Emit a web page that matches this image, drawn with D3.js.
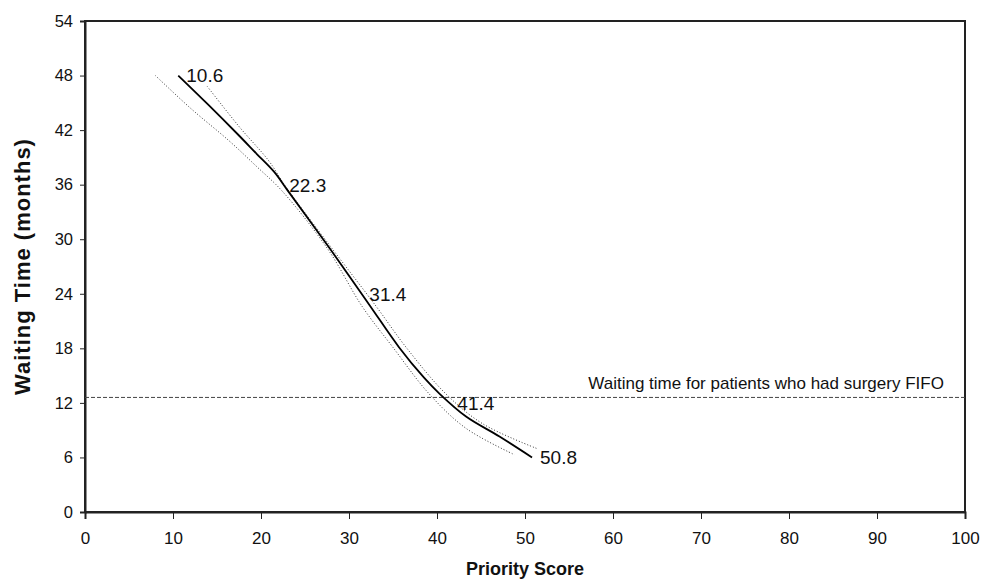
<!DOCTYPE html>
<html>
<head>
<meta charset="utf-8">
<script src="https://cdn.jsdelivr.net/npm/d3@7"></script>
<style>
  body { margin: 0; background: #fff; }
  svg { font-family: "Liberation Sans", Arial, Helvetica, sans-serif; }
</style>
</head>
<body>
<svg id="chart"></svg>
<script>
// priority score (x) against waiting time in months (y)
var fitScore = [10.6, 14.0, 17.3, 19.5, 21.5, 23.0, 27.8, 32.3, 35.7, 38.5, 40.3, 43.3, 47.1, 50.8];
var fitWait = [48.0, 44.8, 41.6, 39.4, 37.4, 35.4, 29.0, 22.8, 18.1, 14.8, 13.0, 10.5, 8.3, 6.0];

var upperScore = [13.9, 17.5, 20.9, 22.8, 27.9, 33.1, 36.5, 41.0, 45.2, 51.3];
var upperWait = [46.8, 42.4, 38.6, 35.8, 29.2, 22.6, 18.1, 13.0, 9.7, 7.0];

var lowerScore = [8.0, 12.0, 16.4, 19.5, 22.4, 27.6, 31.5, 35.0, 39.1, 43.3, 48.8];
var lowerWait = [48.0, 44.4, 40.8, 38.0, 35.3, 28.9, 22.6, 18.1, 13.0, 9.2, 6.3];

var labelScore = [10.6, 22.3, 31.4, 41.4, 50.8];
var labelWait = [48, 36, 24, 12, 6];

var fifoWait = 12.6;
var fifoText = "Waiting time for patients who had surgery FIFO";

var xTicks = [0, 10, 20, 30, 40, 50, 60, 70, 80, 90, 100];
var yTicks = [0, 6, 12, 18, 24, 30, 36, 42, 48, 54];

var width = 989, height = 580;
var margin = {top: 21, right: 24, bottom: 68, left: 85};

var svg = d3.select("#chart")
    .attr("width", width)
    .attr("height", height);

var x = d3.scaleLinear().domain([0, 100]).range([margin.left, width - margin.right]);
var y = d3.scaleLinear().domain([0, 54]).range([height - margin.bottom, margin.top]);

function zipPoints(xs, ys) {
    return xs.map(function (d, i) { return [d, ys[i]]; });
}

var line = d3.line()
    .x(function (d) { return x(d[0]); })
    .y(function (d) { return y(d[1]); })
    .curve(d3.curveCatmullRom.alpha(0.5));

// frame
svg.append("rect")
    .attr("x", x(0))
    .attr("y", y(54))
    .attr("width", x(100) - x(0))
    .attr("height", y(0) - y(54))
    .attr("fill", "none")
    .attr("stroke", "#222")
    .attr("stroke-width", 2);

// axes
var xAxis = svg.append("g")
    .attr("transform", "translate(0," + y(0) + ")")
    .call(d3.axisBottom(x).tickValues(xTicks).tickSize(7).tickPadding(13));

var yAxis = svg.append("g")
    .attr("transform", "translate(" + x(0) + ",0)")
    .call(d3.axisLeft(y).tickValues(yTicks).tickSize(5).tickPadding(7));

[xAxis, yAxis].forEach(function (g) {
    g.select(".domain").attr("stroke", "#222").attr("stroke-width", 2);
    g.selectAll(".tick line").attr("stroke", "#222").attr("stroke-width", 1);
    g.selectAll(".tick text")
        .attr("fill", "#111")
        .style("font-size", "16.5px")
        .style("font-family", "'Liberation Sans', Arial, sans-serif");
});
xAxis.selectAll(".tick text").style("font-family", "'Liberation Sans Narrow', 'Liberation Sans', Arial, sans-serif").style("font-size", "17px");

// FIFO reference line
svg.append("line")
    .attr("x1", x(0))
    .attr("x2", x(100))
    .attr("y1", y(fifoWait))
    .attr("y2", y(fifoWait))
    .attr("stroke", "#444")
    .attr("stroke-width", 1)
    .attr("stroke-dasharray", "4,2");

svg.append("text")
    .attr("x", x(97.6))
    .attr("y", y(fifoWait) - 8)
    .attr("text-anchor", "end")
    .attr("fill", "#111")
    .style("font-size", "17px")
    .text(fifoText);

// confidence bands
[zipPoints(upperScore, upperWait), zipPoints(lowerScore, lowerWait)].forEach(function (pts) {
    svg.append("path")
        .attr("d", line(pts))
        .attr("fill", "none")
        .attr("stroke", "#333")
        .attr("stroke-width", 1)
        .attr("stroke-dasharray", "1,2");
});

// fitted curve
svg.append("path")
    .attr("d", line(zipPoints(fitScore, fitWait)))
    .attr("fill", "none")
    .attr("stroke", "#000")
    .attr("stroke-width", 1.8);

// score labels
svg.selectAll("text.score")
    .data(labelScore)
    .enter().append("text")
    .attr("class", "score")
    .attr("x", function (d) { return x(d) + 8; })
    .attr("y", function (d, i) { return y(labelWait[i]); })
    .attr("dy", "0.36em")
    .attr("fill", "#111")
    .style("font-size", "19px")
    .text(function (d) { return d.toFixed(1); });

// axis titles
svg.append("text")
    .attr("x", (x(0) + x(100)) / 2)
    .attr("y", 575)
    .attr("text-anchor", "middle")
    .attr("fill", "#111")
    .style("font-size", "18px")
    .style("font-weight", "bold")
    .text("Priority Score");

svg.append("text")
    .attr("transform", "translate(30," + y(27) + ") rotate(-90)")
    .attr("text-anchor", "middle")
    .attr("fill", "#111")
    .style("font-size", "22px")
    .style("font-weight", "bold")
    .style("letter-spacing", "1px")
    .text("Waiting Time (months)");
</script>
</body>
</html>
